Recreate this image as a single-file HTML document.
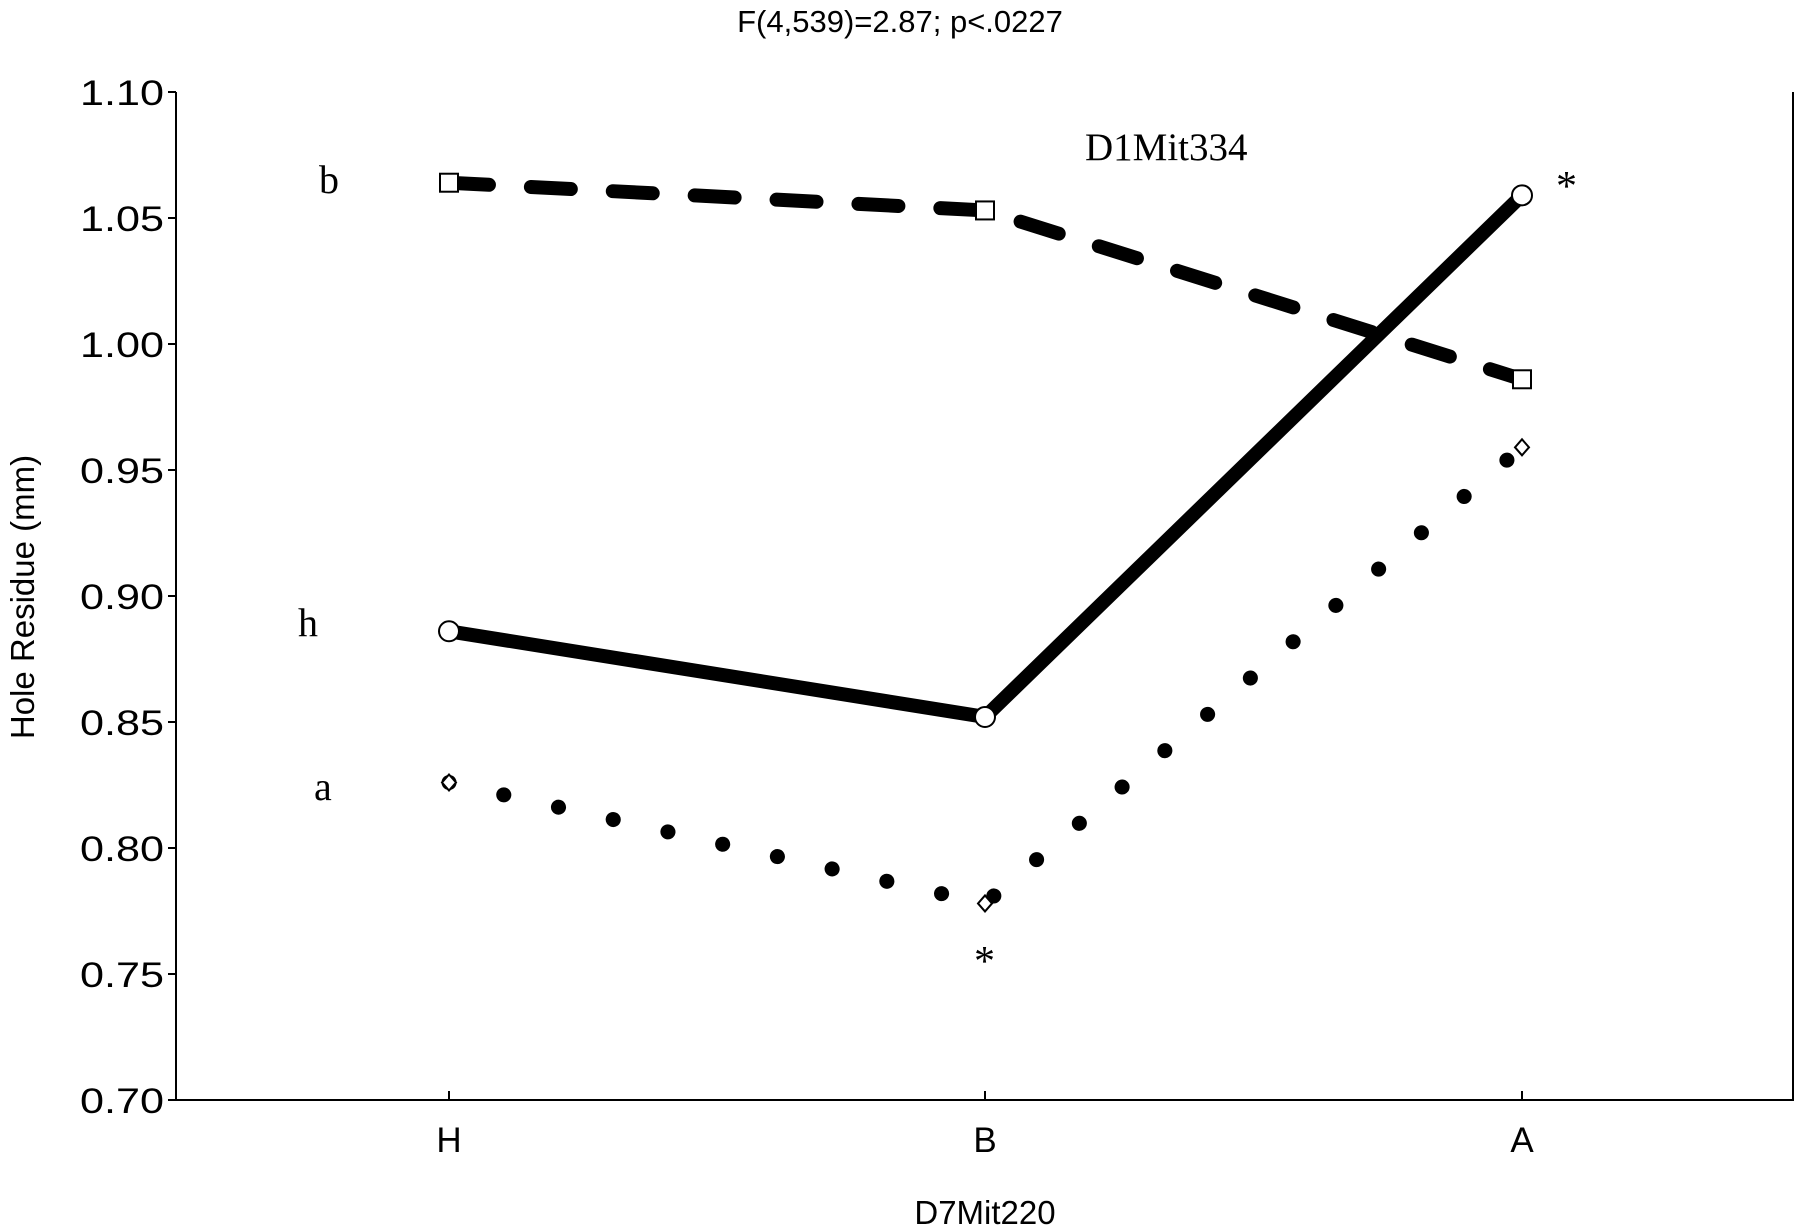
<!DOCTYPE html>
<html><head><meta charset="utf-8"><style>
html,body{margin:0;padding:0;background:#fff;}
svg{display:block;}
</style></head><body>
<svg width="1800" height="1231" viewBox="0 0 1800 1231" xmlns="http://www.w3.org/2000/svg">
<g id="root"></g>
</svg>
<script>
const categories = ["H","B","A"];
const seriesB = [1.064, 1.053, 0.986];
const seriesH = [0.886, 0.852, 1.059];
const seriesA = [0.826, 0.778, 0.959];
const yTicks = [0.70,0.75,0.80,0.85,0.90,0.95,1.00,1.05,1.10];
const yTickLabels = ["0.70","0.75","0.80","0.85","0.90","0.95","1.00","1.05","1.10"];

const NS="http://www.w3.org/2000/svg";
const root=document.getElementById('root');
const L=176,R=1793,T=92,B=1100;
const catX=[449,985,1522];
function x(i){return catX[i];}
function y(v){return B-(v-0.70)/(0.40)*(B-T);}
function mk(tag,attrs,parent){const e=document.createElementNS(NS,tag);for(const k in attrs)e.setAttribute(k,attrs[k]);(parent||root).appendChild(e);return e;}
const F='"Liberation Sans", sans-serif', S='"Liberation Serif", serif';

let e;
e=mk('text',{x:900,y:32,'font-family':F,'font-size':31,'text-anchor':'middle'});e.textContent="F(4,539)=2.87; p<.0227";



e=mk('path',{d:`M${L},${T} V${B} H${R} V${T}`,fill:'none',stroke:'#000','stroke-width':2});



yTicks.forEach((v,i)=>{
  const t=mk('line',{x1:L-8,x2:L,y1:y(v),y2:y(v),stroke:'#000','stroke-width':2});
  
  
  const l=mk('text',{x:L-12,y:y(v)+13,'font-family':F,'font-size':35,'text-anchor':'end',textLength:84,lengthAdjust:'spacingAndGlyphs'});l.textContent=yTickLabels[i];
  
  
});
categories.forEach((c,i)=>{
  const t=mk('line',{x1:x(i),x2:x(i),y1:B,y2:B-9,stroke:'#000','stroke-width':2});
  
  
  const l=mk('text',{x:x(i),y:1152,'font-family':F,'font-size':35,'text-anchor':'middle'});l.textContent=c;
  
  
});
e=mk('text',{x:985,y:1224,'font-family':F,'font-size':33,'text-anchor':'middle'});e.textContent="D7Mit220";


e=mk('text',{x:0,y:0,'font-family':F,'font-size':33,'text-anchor':'middle',transform:'translate(34,597) rotate(-90)'});e.textContent="Hole Residue (mm)";



function pts(arr){return arr.map((v,i)=>`${x(i)},${y(v)}`).join(' ');}
e=mk('polyline',{points:pts(seriesB),fill:'none',stroke:'#000','stroke-width':14,'stroke-dasharray':'40 42','stroke-linecap':'round'});


e=mk('polyline',{points:pts(seriesH),fill:'none',stroke:'#000','stroke-width':14,'stroke-linejoin':'round'});


e=mk('polyline',{points:pts(seriesA),fill:'none',stroke:'#000','stroke-width':15,'stroke-dasharray':'0.1 56','stroke-linecap':'round'});



seriesB.forEach((v,i)=>{
  const m=mk('rect',{x:x(i)-9,y:y(v)-9,width:18,height:18,fill:'#fff',stroke:'#000','stroke-width':2});
  
  
});
seriesH.forEach((v,i)=>{
  const m=mk('circle',{cx:x(i),cy:y(v),r:10,fill:'#fff',stroke:'#000','stroke-width':2});
  
  
});
seriesA.forEach((v,i)=>{
  const m=mk('path',{d:`M${x(i)},${y(v)-8} l7,8 l-7,8 l-7,-8 z`,fill:'#fff',stroke:'#000','stroke-width':2});
  
  
});

function txt(s,xx,yy,size,name){const t=mk('text',{x:xx,y:yy,'font-family':S,'font-size':size});t.textContent=s;
  
  return t;}
txt("D1Mit334",1085,160,39,'legend-title');
txt("b",319,193,40,'label-b');
txt("h",298,636,40,'label-h');
txt("a",314,800,40,'label-a');
txt("*",1556,200,42,'asterisk-a');
txt("*",974,975,42,'asterisk-b');
</script>
</body></html>
